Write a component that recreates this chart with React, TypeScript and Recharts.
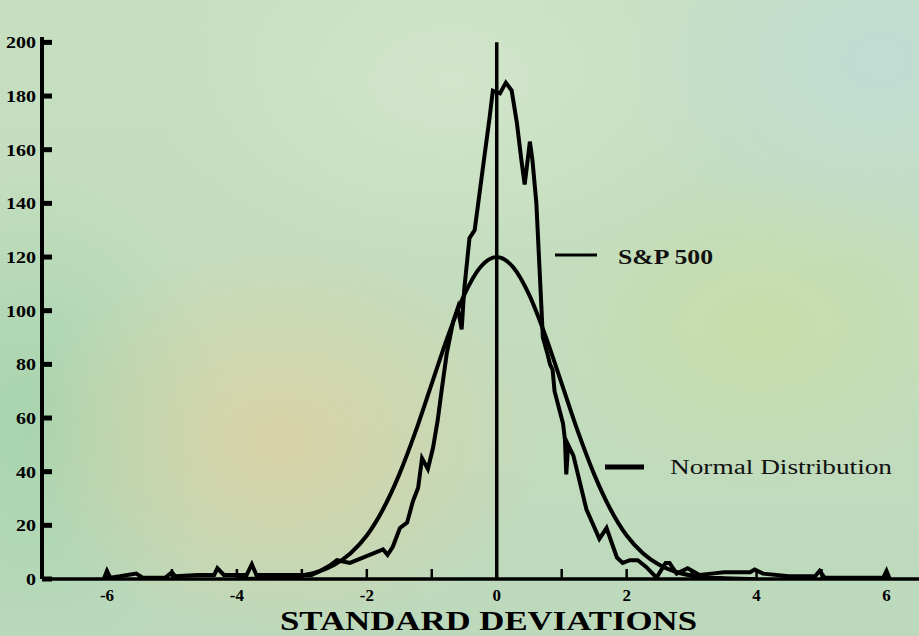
import { Line, LineChart, ReferenceLine, XAxis, YAxis } from 'recharts';

// S&P 500 daily-return histogram (x in standard deviations)
const spX = [
  -6.05, -6.0, -5.95, -5.8, -5.55, -5.45, -5.1, -5.0, -4.95, -4.6, -4.35, -4.3, -4.2, -3.85, -3.77, -3.7,
  -3.2, -2.85, -2.72, -2.57, -2.46, -2.26, -2.06, -1.75, -1.68, -1.6, -1.49, -1.38, -1.29, -1.21, -1.15,
  -1.06, -0.98, -0.91, -0.85, -0.77, -0.67, -0.6, -0.54, -0.5, -0.42, -0.34, -0.22, -0.11, -0.06, 0.05,
  0.14, 0.23, 0.31, 0.38, 0.43, 0.51, 0.55, 0.61, 0.66, 0.71, 0.78, 0.82, 0.86, 0.89, 1.02, 1.05, 1.07,
  1.1, 1.18, 1.38, 1.58, 1.69, 1.85, 1.94, 2.05, 2.17, 2.3, 2.46, 2.6, 2.66, 2.77, 2.94, 3.12, 3.3, 3.5,
  3.9, 3.97, 4.1, 4.5, 4.9, 4.97, 5.05, 5.95, 6.0, 6.05,
];
const spY = [
  0, 3, 0.5, 1, 2, 0.5, 0.5, 2.5, 1, 1.5, 1.5, 4, 1.5, 1.5, 5.5, 1.5,
  1.5, 1.5, 3, 5, 7, 6, 8, 11, 9, 12, 19, 21, 29, 34, 45,
  41, 49, 59, 70, 84, 96, 101, 93, 108, 127, 130, 152, 172, 182, 181,
  185, 182, 170, 156, 147, 163, 156, 140, 115, 90, 84, 80, 78, 70, 58, 52, 39,
  50, 46, 26, 15, 19, 8, 6, 7, 7, 4.5, 0.5, 6, 6, 2, 4, 1.5, 2, 2.5,
  2.5, 3.5, 2, 1, 1, 3, 0.5, 0.5, 3, 0,
];

// Normal distribution curve
const normX = [
  -4, -3.75, -3.5, -3.25, -3, -2.75, -2.5, -2.25, -2, -1.75, -1.5, -1.25, -1, -0.75, -0.5, -0.25, 0,
  0.25, 0.5, 0.75, 1, 1.25, 1.5, 1.75, 2, 2.25, 2.5, 2.75, 3, 3.25, 3.5, 3.75, 4,
];
const normY = [
  0, 0.1, 0.3, 0.6, 1.3, 2.7, 5.3, 9.6, 16.2, 26, 39, 54.9, 72.8, 90.6, 105.9, 116.3, 120,
  116.3, 105.9, 90.6, 72.8, 54.9, 39, 26, 16.2, 9.6, 5.3, 2.7, 1.3, 0.6, 0.3, 0.1, 0,
];

const xTicks = [-6, -5, -4, -3, -2, -1, 0, 1, 2, 3, 4, 5, 6];
const yTicks = [0, 20, 40, 60, 80, 100, 120, 140, 160, 180, 200];

const spData = spX.map((x, i) => ({ x, y: spY[i] }));
const normData = normX.map((x, i) => ({ x, y: normY[i] }));

const SERIF = '"Liberation Serif", "Times New Roman", serif';

function XTick(props: any) {
  const { x, y, payload } = props;
  const v = payload.value;
  return (
    <g>
      <line x1={x} x2={x} y1={y} y2={y - 10} stroke="#000" strokeWidth={2.5} />
      {v % 2 === 0 && (
        <text x={x} y={y + 22} textAnchor="middle" fontFamily={SERIF} fontWeight="bold" fontSize={17} fill="#000">
          {v}
        </text>
      )}
    </g>
  );
}

function YTick(props: any) {
  const { x, y, payload } = props;
  const s = String(payload.value);
  return (
    <g>
      <rect x={x} y={y - 2.5} width={10} height={5} fill="#000" />
      <text
        x={x - 6}
        y={y + 6}
        textAnchor="end"
        fontFamily={SERIF}
        fontWeight="bold"
        fontSize={17}
        fill="#000"
        textLength={s.length * 10}
        lengthAdjust="spacingAndGlyphs"
      >
        {s}
      </text>
    </g>
  );
}

const bg = [
  'radial-gradient(ellipse 260px 200px at 280px 440px, rgba(222,208,160,0.8), rgba(222,208,160,0) 100%)',
  'radial-gradient(ellipse 220px 160px at 760px 330px, rgba(200,222,160,0.65), rgba(200,222,160,0) 100%)',
  'radial-gradient(ellipse 260px 200px at 880px 60px, rgba(190,220,222,0.7), rgba(190,220,222,0) 100%)',
  'radial-gradient(ellipse 200px 260px at 30px 420px, rgba(160,210,170,0.8), rgba(160,210,170,0) 100%)',
  'radial-gradient(ellipse 300px 200px at 450px 80px, rgba(214,232,206,0.7), rgba(214,232,206,0) 100%)',
  'linear-gradient(180deg, #c6dfc0 0%, #c3dcbd 60%, #bcd9bc 100%)',
].join(', ');

export default function App() {
  return (
    <div style={{ position: 'fixed', left: 0, top: 0, width: 919, height: 636, background: bg, overflow: 'hidden' }}>
      <LineChart width={919} height={636} margin={{ top: 37, right: 0, bottom: 0, left: 0 }}>
        <XAxis
          type="number"
          dataKey="x"
          domain={[-7, 6.5]}
          ticks={xTicks}
          allowDataOverflow
          height={57}
          tickSize={0}
          tickMargin={0}
          tick={<XTick />}
          axisLine={{ stroke: '#000', strokeWidth: 3.5 }}
          tickLine={false}
        />
        <YAxis
          type="number"
          dataKey="y"
          domain={[0, 202]}
          ticks={yTicks}
          allowDataOverflow
          width={42}
          tickSize={0}
          tickMargin={0}
          tick={<YTick />}
          axisLine={{ stroke: '#000', strokeWidth: 4 }}
          tickLine={false}
        />
        <ReferenceLine segment={[{ x: 0, y: 0 }, { x: 0, y: 200 }]} stroke="#000" strokeWidth={3.5} />
        <Line
          data={normData}
          dataKey="y"
          type="monotone"
          stroke="#000"
          strokeWidth={4}
          dot={false}
          isAnimationActive={false}
        />
        <Line
          data={spData}
          dataKey="y"
          type="linear"
          stroke="#000"
          strokeWidth={4}
          dot={false}
          isAnimationActive={false}
        />
      </LineChart>
      <svg width={919} height={636} style={{ position: 'absolute', left: 0, top: 0, pointerEvents: 'none' }}>
        <line x1={555} x2={597} y1={255} y2={255} stroke="#000" strokeWidth={3} />
        <text x={618} y={264} fontFamily={SERIF} fontWeight="bold" fontSize={20} textLength={95} lengthAdjust="spacingAndGlyphs" fill="#111">
          S&amp;P 500
        </text>
        <line x1={605} x2={644} y1={467} y2={467} stroke="#000" strokeWidth={5} />
        <text x={670} y={474} fontFamily={SERIF} fontSize={20} textLength={222} lengthAdjust="spacingAndGlyphs" fill="#111">
          Normal Distribution
        </text>
        <text x={280} y={630} fontFamily={SERIF} fontWeight="bold" fontSize={28} textLength={417} lengthAdjust="spacingAndGlyphs" fill="#000">
          STANDARD DEVIATIONS
        </text>
      </svg>
    </div>
  );
}
